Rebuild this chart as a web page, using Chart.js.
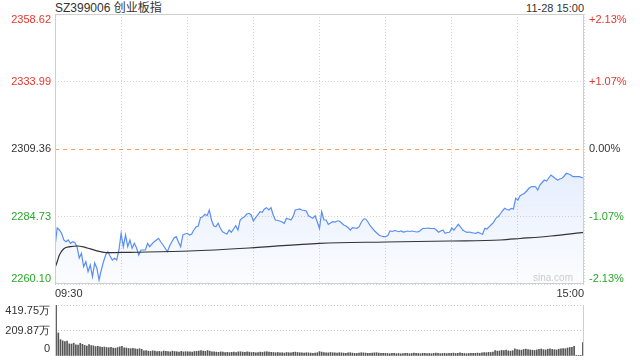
<!DOCTYPE html>
<html>
<head>
<meta charset="utf-8">
<script src="https://cdn.jsdelivr.net/npm/chart.js"></script>
<style>
  html, body { margin: 0; padding: 0; background: #fff; }
  body { width: 640px; height: 360px; position: relative; overflow: hidden;
         font-family: 'Liberation Sans', Arial, 'Noto Sans CJK SC', sans-serif; }
  #title { position: absolute; left: 55px; top: 0; font-size: 12px; line-height: 16px; color: #333; }
  #stamp { position: absolute; right: 56px; top: 1px; font-size: 11px; line-height: 14px; color: #333; }
  #priceChart { position: absolute; left: 0; top: 0; }
  #volChart { position: absolute; left: 0; top: 300px; }
</style>
</head>
<body>
<div id="title">SZ399006 创业板指</div>
<div id="stamp">11-28 15:00</div>
<canvas id="priceChart" width="640" height="302"></canvas>
<canvas id="volChart" width="640" height="60"></canvas>
<script>
// minute-by-minute index price, 09:30 -> 15:00 (241 points)
const prices = [
  2273.71, 2280.53, 2279.80, 2278.60, 2276.16, 2275.54, 2276.16, 2274.95, 2275.54, 2275.17,
  2273.71, 2269.59, 2271.30, 2266.41, 2268.24, 2264.59, 2267.03, 2262.76, 2267.76, 2265.83,
  2261.56, 2265.21, 2268.24, 2270.68, 2271.89, 2270.32, 2268.86, 2269.48, 2268.86, 2272.51,
  2278.60, 2273.71, 2277.98, 2273.71, 2276.16, 2273.13, 2274.95, 2273.24, 2270.68, 2272.51,
  2272.51, 2272.51, 2274.95, 2273.71, 2274.70, 2275.54, 2276.16, 2276.78, 2275.43, 2274.33,
  2273.13, 2271.89, 2273.97, 2275.54, 2276.89, 2277.36, 2275.43, 2273.71, 2277.98, 2278.35,
  2278.60, 2277.98, 2278.35, 2279.80, 2280.90, 2281.26, 2284.29, 2284.66, 2285.53, 2285.02,
  2287.10, 2283.45, 2281.37, 2281.01, 2282.25, 2280.53, 2279.18, 2278.71, 2278.35, 2279.80,
  2278.97, 2280.17, 2281.37, 2279.80, 2283.45, 2284.18, 2284.66, 2285.64, 2285.90, 2285.28,
  2283.09, 2284.29, 2285.28, 2286.48, 2286.26, 2287.47, 2287.94, 2287.10, 2287.94, 2285.28,
  2283.45, 2283.27, 2283.09, 2282.72, 2282.25, 2284.07, 2283.82, 2283.45, 2284.66, 2287.10,
  2287.29, 2287.47, 2287.10, 2286.92, 2286.74, 2285.02, 2284.55, 2284.07, 2285.02, 2282.72,
  2280.42, 2286.48, 2283.45, 2283.45, 2281.88, 2282.36, 2282.83, 2282.72, 2283.09, 2283.09,
  2282.36, 2281.63, 2281.26, 2280.64, 2279.80, 2280.64, 2280.53, 2280.42, 2281.01, 2282.72,
  2283.82, 2283.82, 2282.72, 2281.37, 2280.42, 2279.44, 2278.71, 2277.98, 2277.62, 2277.36,
  2277.36, 2277.80, 2279.44, 2279.26, 2279.62, 2279.44, 2279.18, 2279.44, 2279.07, 2279.18,
  2279.44, 2279.26, 2279.44, 2279.26, 2279.07, 2279.18, 2279.80, 2280.42, 2280.35, 2280.53,
  2280.42, 2280.35, 2280.42, 2279.80, 2278.97, 2279.44, 2279.80, 2278.60, 2278.89, 2278.97,
  2280.53, 2279.80, 2280.90, 2281.88, 2280.90, 2279.80, 2279.26, 2278.97, 2279.07, 2278.82,
  2278.71, 2278.60, 2278.97, 2278.53, 2278.24, 2280.42, 2280.17, 2281.01, 2281.81, 2282.61,
  2284.07, 2284.66, 2285.64, 2286.74, 2287.72, 2287.29, 2287.10, 2287.72, 2287.47, 2291.37,
  2290.75, 2292.32, 2292.76, 2293.20, 2294.04, 2295.02, 2295.60, 2295.68, 2295.60, 2294.40,
  2296.23, 2297.14, 2298.05, 2297.68, 2298.78, 2299.87, 2299.25, 2298.60, 2298.05, 2298.41,
  2298.67, 2299.51, 2300.49, 2300.24, 2299.87, 2299.25, 2299.32, 2299.25, 2299.25, 2298.96,
  2298.67
];

// average price line, read at a few minutes
const avgMinutes = [0, 1, 2, 4, 7, 10, 14, 19, 24, 34, 61, 88, 120, 150, 179, 202, 211, 225, 240];
const avgPrices = [2265.94, 2268.24, 2270.68, 2272.98, 2273.71, 2273.97, 2273.40, 2272.20, 2271.52,
  2271.67, 2272.14, 2273.24, 2274.95, 2275.43, 2275.79, 2276.16, 2276.70, 2277.62, 2278.97];

// volume per minute, in 万
const volumes = [
  419.75, 190, 135, 125, 118, 122, 100, 98, 105, 92,
  90, 104, 96, 88, 82, 95, 86, 84, 78, 80,
  76, 72, 74, 70, 68, 72, 66, 64, 70, 75,
  80, 68, 66, 62, 60, 64, 58, 56, 60, 55,
  42, 45, 40, 38, 43, 40, 37, 38, 35, 41,
  38, 36, 34, 40, 37, 35, 32, 38, 34, 36,
  35, 34, 32, 37, 38, 41, 44, 40, 38, 45,
  40, 35, 34, 32, 30, 34, 32, 29, 30, 28,
  30, 32, 29, 34, 35, 32, 30, 34, 32, 29,
  30, 27, 29, 32, 30, 34, 35, 32, 30, 29,
  27, 29, 26, 27, 24, 29, 27, 26, 30, 32,
  29, 27, 26, 24, 27, 26, 24, 22, 24, 27,
  36, 32, 29, 27, 26, 29, 27, 26, 24, 27,
  26, 24, 22, 26, 27, 24, 22, 21, 24, 27,
  26, 24, 22, 21, 24, 26, 27, 24, 22, 21,
  22, 21, 19, 21, 22, 19, 21, 18, 19, 21,
  22, 19, 21, 24, 22, 21, 19, 22, 21, 19,
  21, 19, 22, 24, 21, 19, 21, 22, 19, 21,
  22, 24, 21, 22, 26, 22, 21, 19, 21, 22,
  21, 22, 24, 22, 26, 29, 27, 30, 29, 32,
  44, 40, 42, 46, 44, 48, 42, 40, 44, 58,
  52, 50, 48, 54, 56, 52, 50, 48, 46, 50,
  54, 58, 52, 50, 56, 60, 54, 52, 50, 56,
  58, 62, 60, 66, 70, 72, 80, 3, 2, 2,
  110
];

const prevClose = 2309.36;
const priceTicks = [2260.10, 2284.73, 2309.36, 2333.99, 2358.62];
const pctTicks = ['-2.13%', '-1.07%', '0.00%', '+1.07%', '+2.13%'];
const volTicks = [0, 209.87, 419.75];
const volTickLabels = ['0', '209.87万', '419.75万'];
const gridMinutes = [0, 30, 60, 90, 120, 150, 180, 210, 240];
const timeLabelMinutes = [0, 240];
const timeLabels = ['09:30', '15:00'];

const minutes = prices.map((p, i) => i);

const RED = '#e8352c';
const GREEN = '#27a827';
const DARK = '#333';
const FONT = '11px "Liberation Sans", Arial, sans-serif';

function tickColor(v) {
    if (v > prevClose + 0.001) return RED;
    if (v < prevClose - 0.001) return GREEN;
    return DARK;
}

// y label baseline: bottom tick sits above its line, top tick below its line
function baselineFor(i, n) {
    if (i === 0) return 'bottom';
    if (i === n - 1) return 'top';
    return 'middle';
}

// Frame, prev-close line and axis texts for the price chart
const priceDecor = {
    id: 'priceDecor',
    afterDatasetsDraw(chart) {
        const { ctx, chartArea: a, scales } = chart;
        const py = Math.round(scales.y.getPixelForValue(prevClose)) + 0.5;
        ctx.save();
        ctx.strokeStyle = '#f59a55';
        ctx.lineWidth = 1;
        ctx.setLineDash([4, 4]);
        ctx.beginPath();
        ctx.moveTo(a.left, py);
        ctx.lineTo(a.right, py);
        ctx.stroke();
        ctx.restore();
    },
    afterDraw(chart) {
        const { ctx, chartArea: a, scales } = chart;
        ctx.save();
        ctx.strokeStyle = '#cfcfcf';
        ctx.lineWidth = 1;
        ctx.strokeRect(a.left + 0.5, a.top + 0.5, a.right - a.left - 1, a.bottom - a.top - 1);

        ctx.font = FONT;
        priceTicks.forEach((v, i) => {
            const py = scales.y.getPixelForValue(v);
            ctx.textBaseline = baselineFor(i, priceTicks.length);
            ctx.fillStyle = tickColor(v);
            ctx.textAlign = 'right';
            ctx.fillText(v.toFixed(2), a.left - 4, py);
            ctx.textAlign = 'left';
            ctx.fillText(pctTicks[i], a.right + 5, py);
        });

        ctx.fillStyle = DARK;
        ctx.textBaseline = 'top';
        timeLabelMinutes.forEach((m, i) => {
            const px = scales.x.getPixelForValue(m);
            ctx.textAlign = i === 0 ? 'left' : 'right';
            ctx.fillText(timeLabels[i], px, a.bottom + 4);
        });

        ctx.font = '10px "Liberation Sans", Arial, sans-serif';
        ctx.fillStyle = '#cccccc';
        ctx.textAlign = 'right';
        ctx.textBaseline = 'bottom';
        ctx.fillText('sina.com', a.right - 11, a.bottom - 1);
        ctx.restore();
    }
};

// Side borders and labels for the volume chart
const volDecor = {
    id: 'volDecor',
    afterDraw(chart) {
        const { ctx, chartArea: a, scales } = chart;
        ctx.save();
        ctx.strokeStyle = '#cfcfcf';
        ctx.lineWidth = 1;
        ctx.beginPath();
        ctx.moveTo(a.left + 0.5, a.top);
        ctx.lineTo(a.left + 0.5, a.bottom);
        ctx.moveTo(a.right - 0.5, a.top);
        ctx.lineTo(a.right - 0.5, a.bottom);
        ctx.stroke();

        ctx.font = FONT;
        ctx.fillStyle = DARK;
        ctx.textAlign = 'right';
        volTicks.forEach((v, i) => {
            const py = scales.y.getPixelForValue(v);
            ctx.textBaseline = baselineFor(i, volTicks.length);
            ctx.fillText(volTickLabels[i], a.left - 5, i === 0 ? py - 2 : py);
        });
        ctx.restore();
    }
};

function fillGradient(c) {
    const a = c.chart.chartArea;
    if (!a) return 'rgba(90,142,245,0.08)';
    const g = c.chart.ctx.createLinearGradient(0, a.top + 150, 0, a.bottom);
    g.addColorStop(0, 'rgba(90,142,245,0.16)');
    g.addColorStop(1, 'rgba(90,142,245,0.02)');
    return g;
}

new Chart(document.getElementById('priceChart'), {
    type: 'line',
    data: {
        datasets: [{
            data: prices.map((p, i) => ({ x: minutes[i], y: p })),
            borderColor: '#5a8ef5',
            borderWidth: 1.2,
            pointRadius: 0,
            tension: 0,
            fill: 'start',
            backgroundColor: fillGradient,
            order: 2
        }, {
            data: avgMinutes.map((m, i) => ({ x: m, y: avgPrices[i] })),
            borderColor: '#333',
            borderWidth: 1.2,
            pointRadius: 0,
            cubicInterpolationMode: 'monotone',
            fill: false,
            order: 1
        }]
    },
    options: {
        responsive: false,
        animation: false,
        layout: { padding: { top: 14, bottom: 18, left: 0, right: 0 } },
        plugins: { legend: { display: false }, tooltip: { enabled: false } },
        scales: {
            x: {
                type: 'linear', min: 0, max: 240,
                afterBuildTicks: s => { s.ticks = gridMinutes.map(v => ({ value: v })); },
                ticks: { display: false },
                grid: { color: '#d2d2d2', drawTicks: false },
                border: { display: false, dash: [1, 2] },
                afterFit: s => { s.height = 0; }
            },
            y: {
                position: 'left',
                min: priceTicks[0], max: priceTicks[priceTicks.length - 1],
                afterBuildTicks: s => { s.ticks = priceTicks.map(v => ({ value: v })); },
                ticks: { display: false },
                grid: { color: c => (c.tick && c.tick.value === prevClose) ? 'rgba(0,0,0,0)' : '#d2d2d2', drawTicks: false },
                border: { display: false, dash: [1, 2] },
                afterFit: s => { s.width = 55; }
            },
            y2: {
                position: 'right',
                min: priceTicks[0], max: priceTicks[priceTicks.length - 1],
                ticks: { display: false },
                grid: { display: false, drawTicks: false },
                border: { display: false },
                afterFit: s => { s.width = 56; }
            }
        }
    },
    plugins: [priceDecor]
});

new Chart(document.getElementById('volChart'), {
    type: 'bar',
    data: {
        labels: minutes,
        datasets: [{
            data: volumes,
            backgroundColor: '#555',
            barThickness: 1
        }]
    },
    options: {
        responsive: false,
        animation: false,
        layout: { padding: { top: 5, bottom: 4, left: 0, right: 0 } },
        plugins: { legend: { display: false }, tooltip: { enabled: false } },
        scales: {
            x: {
                ticks: { display: false },
                grid: { display: false, drawTicks: false },
                border: { display: false },
                afterFit: s => { s.height = 0; }
            },
            y: {
                position: 'left',
                min: 0, max: volTicks[volTicks.length - 1],
                afterBuildTicks: s => { s.ticks = volTicks.map(v => ({ value: v })); },
                ticks: { display: false },
                grid: { color: c => (c.tick && c.tick.value === 0) ? 'rgba(0,0,0,0)' : '#c8c8c8', drawTicks: false },
                border: { display: false, dash: [1, 2] },
                afterFit: s => { s.width = 55; }
            },
            y2: {
                position: 'right',
                min: 0, max: volTicks[volTicks.length - 1],
                ticks: { display: false },
                grid: { display: false, drawTicks: false },
                border: { display: false },
                afterFit: s => { s.width = 56; }
            }
        }
    },
    plugins: [volDecor]
});
</script>
</body>
</html>
